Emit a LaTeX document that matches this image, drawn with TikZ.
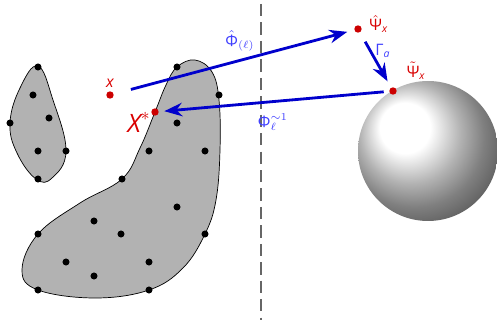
\documentclass[tikz,border=0pt]{standalone}
\usepackage{amsmath}
\usepackage{fontspec}
\newfontfamily\lblfont{Open Sans}
\usepackage{tikz}
\usetikzlibrary{arrows.meta,positioning}

\newcommand\sv[1]{\text{\lblfont\itshape #1}}
\newcommand\sg[1]{\text{\lblfont #1}}

\begin{document}
\begin{tikzpicture}[
    x=0.02cm, y=-0.02cm,
    >=Stealth,
    font=\small,
    blob/.style={
      draw=black,
      thin,
      fill=black!30
    },
    dot/.style={
      circle,
      fill=black,
      inner sep=0pt,
      minimum size=4pt
    },
    pt/.style={
      dot,
      fill=red!80!black,
      minimum size=4.2pt
    },
    redlbl/.style={
      text=red!85!black,
      inner sep=1pt
    },
    bluelbl/.style={
      text=blue!75,
      inner sep=1pt
    },
    flow/.style={->, line width=1.6pt, draw=blue!80!black}
  ]
    \useasboundingbox (0,0) rectangle (497,320);

    % the two regions
    \draw[blob] plot[smooth cycle, tension=0.7] coordinates {
      (38,66) (53,100) (66,151) (52,178) (36,179) (17,153) (10,123) (20,88)};
    \draw[blob] plot[smooth cycle, tension=0.65] coordinates {
      (177,67) (195,60) (212,72) (219,100) (220,150) (216,200) (205,234)
      (183,268) (149,290) (95,298) (38,290) (22,270) (38,234) (80,203)
      (122,179) (140,148) (155,112) (166,85)};

    \foreach \p in {(38,67),(33,95),(49,118),(10,123),(38,151),(66,151),(38,179),
                    (177,67),(219,95),(177,123),(149,151),(205,151),(122,179),
                    (177,207),(94,221),(121,234),(38,234),(205,234),(66,262),
                    (149,262),(94,276),(38,290),(149,290)}
      \node[dot] at \p {};

    % separator
    \draw[dashed, dash pattern=on 7pt off 3.5pt, line width=0.75pt, draw=black!60]
      (261,4) -- (261,320);

    % sphere
    \shade[ball color=white] (428,151) circle (70);

    % points
    \node[pt] (x) at (110,95) {};
    \node[pt] (xs) at (155,112) {};
    \node[pt] (psihat) at (358,29) {};
    \node[pt] (psitilde) at (393,91) {};

    \node[redlbl, above=1pt of x] (xlbl) {$\sv{x}$};
    \node[redlbl, font=\Large, left=-1pt of xs, yshift=-6pt] (xslbl) {$\sv{X}^{*}$};
    \node[redlbl, right=3pt of psihat, yshift=3pt] (psihatlbl) {$\hat{\sg{Ψ}}_{\sv{x}}$};
    \node[redlbl, above right=4pt and 5pt of psitilde] (psitildelbl) {$\tilde{\sg{Ψ}}_{\sv{x}}$};

    \draw[flow, shorten <=10pt, shorten >=4pt] (x) -- (psihat);
    \draw[flow, shorten <=6pt, shorten >=4pt] (psihat) -- (psitilde);
    \draw[flow, shorten <=3pt, shorten >=3pt] (psitilde) -- (xs);

    \node[bluelbl] (phihat) at (240,41) {$\hat{\sg{Φ}}_{(\ell)}$};
    \node[bluelbl] (gamma) at (383,51) {$\sg{Γ}_{\sv{a}}$};
    \node[bluelbl] (phiinv) at (273,122) {$\sg{Φ}_{\ell}^{\sim 1}$};
  \end{tikzpicture}
\end{document}
